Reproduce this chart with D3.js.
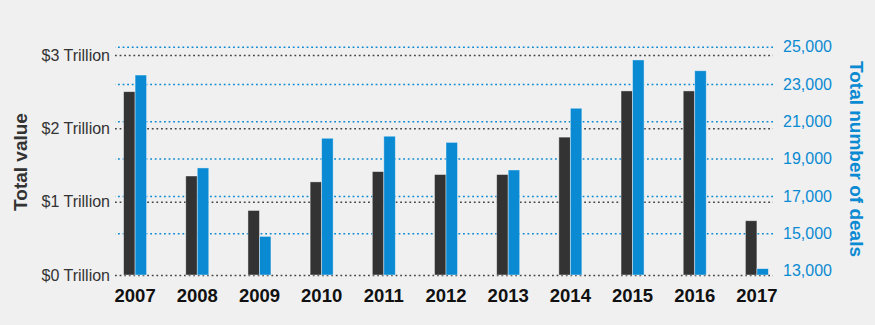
<!DOCTYPE html>
<html>
<head>
<meta charset="utf-8">
<script src="https://cdn.jsdelivr.net/npm/d3@7"></script>
<style>
  html, body { margin: 0; padding: 0; background: #f0f0f0; }
  svg { display: block; font-family: "Liberation Sans", Arial, sans-serif; }
</style>
</head>
<body>
<div id="chart"></div>
<script>
// data
const years = ["2007", "2008", "2009", "2010", "2011", "2012", "2013", "2014", "2015", "2016", "2017"];
const totalValue = [2.50, 1.35, 0.88, 1.27, 1.41, 1.37, 1.37, 1.88, 2.51, 2.51, 0.74]; // $ trillion
const totalDeals = [23480, 18500, 14830, 20090, 20200, 19870, 18390, 21700, 24290, 23710, 13100];
const valueTicks = [0, 1, 2, 3];
const dealTicks = [13000, 15000, 17000, 19000, 21000, 23000, 25000];

const width = 875;
const height = 325;
const darkColor = "#333333";
const blueColor = "#0a8ad2";

const svg = d3.select('#chart')
  .append('svg')
  .attr('width', width)
  .attr('height', height);

svg.append('rect')
  .attr('width', width)
  .attr('height', height)
  .attr('fill', '#f0f0f0');

// scales
const gridLeft = 115, gridRight = 773, baseY = 275;

const x = d3.scaleBand()
  .domain(years)
  .range([104, 788])
  .paddingInner(0.63)
  .paddingOuter(0.315);

const xSeries = d3.scaleBand()
  .domain(["value", "deals"])
  .range([0, x.bandwidth()]);

const yL = d3.scaleLinear().domain([0, 3]).range([baseY, 55]);
const yR = d3.scaleLinear().domain([13000, 25000]).range([270.5, 46.7]);

// right axis + blue grid
const rightAxis = svg.append('g')
  .attr('transform', `translate(${gridRight},0)`)
  .call(d3.axisRight(yR)
    .tickValues(dealTicks)
    .tickFormat(d3.format(','))
    .tickSize(-(gridRight - gridLeft))
    .tickPadding(10));
rightAxis.select('.domain').remove();
rightAxis.selectAll('line')
  .attr('stroke', blueColor)
  .attr('stroke-width', 1.5)
  .attr('stroke-dasharray', '1.8,2.8')
  .attr('opacity', d => d === 13000 ? 0 : 1);
rightAxis.selectAll('text')
  .attr('fill', blueColor)
  .attr('font-size', '16px');

// left axis + black grid
const leftAxis = svg.append('g')
  .attr('transform', `translate(${gridLeft},0)`)
  .call(d3.axisLeft(yL)
    .tickValues(valueTicks)
    .tickFormat(d => `$${d} Trillion`)
    .tickSize(-(gridRight - gridLeft))
    .tickPadding(5));
leftAxis.select('.domain').remove();
leftAxis.selectAll('line')
  .attr('stroke', '#444')
  .attr('stroke-width', 1.5)
  .attr('stroke-dasharray', '1.8,2.8');
leftAxis.selectAll('text')
  .attr('fill', '#333')
  .attr('font-size', '16px');

// bars
const groups = svg.append('g')
  .selectAll('g')
  .data(years)
  .join('g')
    .attr('transform', d => `translate(${x(d)},0)`);

groups.append('rect')
  .attr('x', xSeries('value'))
  .attr('width', xSeries.bandwidth())
  .attr('y', (d, i) => yL(totalValue[i]))
  .attr('height', (d, i) => baseY - yL(totalValue[i]))
  .attr('fill', darkColor)
  .attr('stroke', '#fff')
  .attr('stroke-opacity', 0.5)
  .attr('stroke-width', 0.8);

groups.append('rect')
  .attr('x', xSeries('deals'))
  .attr('width', xSeries.bandwidth())
  .attr('y', (d, i) => yR(totalDeals[i]))
  .attr('height', (d, i) => baseY - yR(totalDeals[i]))
  .attr('fill', blueColor)
  .attr('stroke', '#fff')
  .attr('stroke-opacity', 0.5)
  .attr('stroke-width', 0.8);

// x axis labels
const xAxis = svg.append('g')
  .attr('transform', `translate(0,${baseY})`)
  .call(d3.axisBottom(x).tickSize(0).tickPadding(14));
xAxis.select('.domain').remove();
xAxis.selectAll('text')
  .attr('fill', '#111')
  .attr('font-size', '18.5px')
  .attr('font-weight', 'bold');

// axis titles
svg.append('text')
  .attr('transform', 'translate(27,162) rotate(-90)')
  .attr('text-anchor', 'middle')
  .attr('font-size', '19px')
  .attr('font-weight', 'bold')
  .attr('fill', '#333')
  .text('Total value');

svg.append('text')
  .attr('transform', 'translate(850,159) rotate(90)')
  .attr('text-anchor', 'middle')
  .attr('font-size', '19px')
  .attr('font-weight', 'bold')
  .attr('fill', blueColor)
  .text('Total number of deals');
</script>
</body>
</html>
